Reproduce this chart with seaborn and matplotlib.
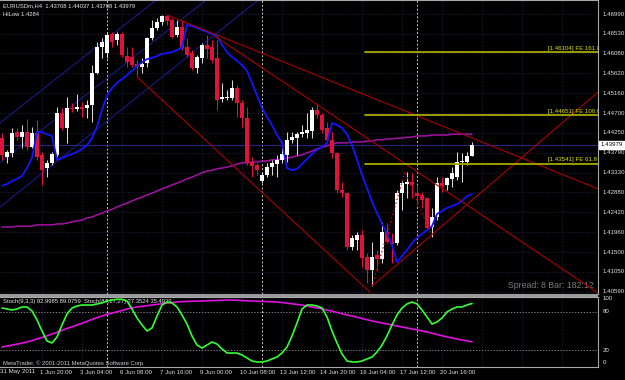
import numpy as np
import pandas as pd
import matplotlib
matplotlib.use("Agg")
import matplotlib.pyplot as plt
import matplotlib.transforms as mtrans
from matplotlib.patches import Rectangle
import seaborn as sns

sns.set_theme(style="dark")
plt.rcParams['font.family'] = ['Liberation Sans', 'DejaVu Sans']

# ---------------- data ----------------
opens = [1.4413,1.4369,1.4379,1.4427,1.4415,1.4427,1.4392,1.4425,1.4374,1.4344,
 1.4356,1.4374,1.4471,1.4436,1.4482,1.4481,1.4485,1.4482,1.4489,1.4563,
 1.4623,1.4609,1.4653,1.4639,1.4653,1.4602,1.4600,1.4584,1.4577,1.4586,
 1.4644,1.4667,1.4681,1.4694,1.4685,1.4651,1.4669,1.4623,1.4609,1.4575,
 1.4598,1.4628,1.4623,1.4598,1.4503,1.4505,1.4505,1.4528,1.4494,1.4459,
 1.4358,1.4351,1.4314,1.4328,1.4346,1.4353,1.4363,1.4374,1.4409,1.4413,
 1.4422,1.4425,1.4429,1.4478,1.4466,1.4436,1.4409,1.4379,1.4293,1.4286,
 1.4162,1.4178,1.4190,1.4139,1.4109,1.4144,1.4134,1.4197,1.4174,1.4171,
 1.4286,1.4307,1.4312,1.4286,1.4282,1.4275,1.4208,1.4231,1.4309,1.4305,
 1.4319,1.4323,1.4358,1.4358,1.43708]
highs = [1.4425,1.4386,1.4436,1.4436,1.4443,1.4457,1.4439,1.4455,1.4381,1.4363,
 1.4381,1.4485,1.4482,1.4508,1.4494,1.4515,1.4496,1.4501,1.4581,1.4634,
 1.4644,1.4655,1.4658,1.4658,1.4658,1.4623,1.4623,1.4593,1.4598,1.4646,
 1.4685,1.4690,1.4697,1.4697,1.4690,1.4685,1.4685,1.4644,1.4616,1.4605,
 1.4632,1.4651,1.4639,1.4639,1.4540,1.4524,1.4547,1.4535,1.4501,1.4485,
 1.4369,1.4356,1.4335,1.4356,1.4363,1.4374,1.4402,1.4427,1.4427,1.4427,
 1.4443,1.4471,1.4485,1.4494,1.4471,1.4450,1.4427,1.4381,1.4312,1.4289,
 1.4190,1.4197,1.4201,1.4148,1.4174,1.4155,1.4220,1.4217,1.4194,1.4293,
 1.4316,1.4335,1.4333,1.4305,1.4289,1.4277,1.4252,1.4323,1.4323,1.4323,
 1.4346,1.4381,1.4379,1.4381,1.44037]
lows = [1.4363,1.4356,1.4369,1.4409,1.4390,1.4386,1.4390,1.4363,1.4305,1.4323,
 1.4351,1.4369,1.4432,1.4402,1.4473,1.4475,1.4462,1.4459,1.4450,1.4561,
 1.4598,1.4598,1.4623,1.4628,1.4600,1.4577,1.4577,1.4554,1.4563,1.4577,
 1.4639,1.4662,1.4674,1.4674,1.4644,1.4646,1.4616,1.4600,1.4570,1.4563,
 1.4586,1.4598,1.4586,1.4478,1.4496,1.4501,1.4501,1.4462,1.4439,1.4351,
 1.4323,1.4328,1.4309,1.4323,1.4328,1.4323,1.4356,1.4358,1.4402,1.4374,
 1.4415,1.4413,1.4413,1.4459,1.4425,1.4404,1.4367,1.4286,1.4277,1.4155,
 1.4155,1.4155,1.4116,1.4079,1.4072,1.4109,1.4125,1.4171,1.4125,1.4167,
 1.4247,1.4275,1.4275,1.4259,1.4252,1.4201,1.4185,1.4224,1.4289,1.4293,
 1.4300,1.4316,1.4312,1.4351,1.43708]
closes = [1.4374,1.4381,1.4425,1.4415,1.4427,1.4392,1.4425,1.4369,1.4339,1.4356,
 1.4376,1.4471,1.4436,1.4482,1.4479,1.4485,1.4481,1.4489,1.4563,1.4623,
 1.4634,1.4651,1.4634,1.4653,1.4605,1.4588,1.4581,1.4577,1.4584,1.4644,
 1.4667,1.4681,1.4694,1.4683,1.4646,1.4669,1.4621,1.4605,1.4575,1.4600,
 1.4628,1.4618,1.4593,1.4501,1.4508,1.4508,1.4528,1.4494,1.4459,1.4356,
 1.4349,1.4339,1.4328,1.4346,1.4356,1.4363,1.4376,1.4409,1.4415,1.4422,
 1.4427,1.4432,1.4478,1.4466,1.4432,1.4409,1.4379,1.4293,1.4286,1.4162,
 1.4183,1.4190,1.4137,1.4109,1.4139,1.4134,1.4197,1.4174,1.4169,1.4286,
 1.4309,1.4312,1.4305,1.4279,1.4270,1.4206,1.4231,1.4309,1.4303,1.4321,
 1.4333,1.4358,1.4360,1.4372,1.43979]
hilow = [1.4303,1.4307,1.4314,1.4319,1.4326,1.4344,1.4367,1.4427,1.4427,1.4422,
 1.4418,1.4363,1.4367,1.4372,1.4376,1.4381,1.4388,1.4397,1.4413,1.4439,
 1.4478,1.4511,1.4528,1.4540,1.4549,1.4558,1.4568,1.4579,1.4588,1.4595,
 1.4598,1.4602,1.4607,1.4609,1.4611,1.4616,1.4621,1.4674,1.4671,1.4667,
 1.4662,1.4658,1.4653,1.4648,1.4628,1.4611,1.4600,1.4591,1.4581,1.4568,
 1.4540,1.4511,1.4482,1.4462,1.4443,1.4420,1.4402,1.4344,1.4339,1.4342,
 1.4353,1.4365,1.4376,1.4386,1.4392,1.4402,1.4448,1.4443,1.4436,1.4422,
 1.4397,1.4363,1.4328,1.4298,1.4266,1.4240,1.4215,1.4194,1.4167,1.4127,
 1.4141,1.4155,1.4171,1.4183,1.4192,1.4201,1.4210,1.4238,1.4245,1.4252,
 1.4256,1.4261,1.4268,1.4279,1.4284]
ma_slow = [1.4208,1.4208,1.4208,1.4210,1.4210,1.4210,1.4210,1.4213,1.4213,1.4213,
 1.4213,1.4215,1.4215,1.4217,1.4220,1.4222,1.4224,1.4229,1.4231,1.4236,
 1.4240,1.4245,1.4249,1.4254,1.4259,1.4263,1.4268,1.4273,1.4277,1.4282,
 1.4286,1.4291,1.4296,1.4300,1.4305,1.4309,1.4314,1.4319,1.4323,1.4328,
 1.4333,1.4337,1.4339,1.4342,1.4344,1.4346,1.4349,1.4353,1.4356,1.4356,
 1.4358,1.4358,1.4360,1.4360,1.4363,1.4363,1.4365,1.4367,1.4369,1.4372,
 1.4374,1.4379,1.4383,1.4388,1.4392,1.4395,1.4399,1.4402,1.4402,1.4402,
 1.4404,1.4404,1.4404,1.4406,1.4406,1.4409,1.4409,1.4411,1.4411,1.4413,
 1.4413,1.4415,1.4415,1.4418,1.4418,1.4418,1.4420,1.4420,1.4420,1.4420,
 1.4422,1.4422,1.4422,1.4422,1.4422]
stoch_fast = [85.9,84.4,82.8,84.4,87.5,87.5,81.3,67.2,50.0,34.4,
 31.3,40.6,59.4,76.6,85.9,89.1,90.6,90.6,90.6,92.2,
 93.8,96.9,98.4,99.5,99.5,96.9,84.4,70.3,59.4,50.0,
 54.7,73.4,90.6,95.3,93.8,87.5,75.0,60.9,42.2,28.1,
 23.4,28.1,32.8,29.7,21.9,15.6,15.6,15.6,12.5,7.8,
 3.1,1.6,1.6,3.1,6.3,9.4,15.6,25.0,42.2,62.5,
 84.4,90.6,90.6,89.1,85.9,71.9,50.0,31.3,14.1,3.1,
 1.6,1.6,3.1,6.3,9.4,17.2,28.1,42.2,59.4,75.0,
 85.9,92.2,95.3,92.2,82.8,71.9,60.9,64.1,70.3,79.7,
 84.4,87.5,87.5,90.6,93.0]
stoch_slow = [25.0,26.5,28.0,29.5,31.0,32.8,35.0,37.5,40.0,42.5,
 45.3,48.0,51.0,54.0,56.5,59.4,62.0,65.0,68.0,71.0,
 73.4,76.0,78.0,80.0,82.0,84.4,86.0,87.5,88.5,89.5,
 90.6,91.6,92.6,93.5,94.4,95.3,95.8,96.2,96.5,96.7,
 96.9,97.2,97.5,97.8,98.1,98.4,98.2,98.0,97.6,97.2,
 96.9,96.6,96.2,95.9,95.6,95.3,94.5,93.5,92.5,91.5,
 90.6,89.0,87.5,86.0,84.5,82.8,81.0,79.0,77.0,75.0,
 73.4,71.5,69.5,67.6,65.8,64.1,62.5,61.0,59.4,57.8,
 56.3,54.7,53.1,51.6,50.0,48.4,46.5,44.5,42.6,40.8,
 39.1,37.5,36.0,34.5,33.0]
time_labels = ["31 May 2011", "1 Jun 20:00", "3 Jun 04:00", "6 Jun 08:00",
               "7 Jun 16:00", "9 Jun 00:00", "10 Jun 08:00", "13 Jun 12:00",
               "14 Jun 20:00", "16 Jun 04:00", "17 Jun 12:00", "20 Jun 16:00"]
time_label_bars = [0, 8, 16, 24, 32, 40, 48, 56, 64, 72, 80, 88]
week_sep_bars = [21, 52, 83]
price_ticks = [1.46990, 1.46530, 1.46080, 1.45620, 1.45160, 1.44700, 1.44250,
               1.43790, 1.43330, 1.42880, 1.42420, 1.41960, 1.41500, 1.41050, 1.40590]
last_price = 1.43979
fib_levels = [1.46104, 1.44651, 1.43541]
fib_names = ["[1.46104] FE 161.8", "[1.44651] FE 100.0", "[1.43541] FE 61.8"]
fib_start_bar = 72.6
# channel lines: (bar0, price0, bar1, price1)
channel_lines = [(-0.4, 1.4448, 30.8, 1.4731),
                 (-0.4, 1.4356, 40.8, 1.4731),
                 (-0.4, 1.4254, 51.2, 1.4731)]
trend_lines = [(27, 1.4554, 73.6, 1.4058),
               (33, 1.4697, 119.2, 1.4296),
               (42.6, 1.4648, 119.2, 1.4056),
               (74, 1.4072, 119.2, 1.4519)]
zigzag_bars = [74, 80.6, 86]
zigzag_prices = [1.4072, 1.4335, 1.4185]

n = len(opens)
bars = np.arange(n)
df = pd.DataFrame({"bar": bars, "open": opens, "high": highs, "low": lows,
                   "close": closes, "hilow": hilow, "ma": ma_slow,
                   "stoch_fast": stoch_fast, "stoch_slow": stoch_slow})

# ---------------- figure ----------------
W, H = 625, 380
fig = plt.figure(figsize=(W / 100, H / 100), dpi=100, facecolor="black")
ax = fig.add_axes([0, 1 - 294 / H, 598 / W, 294 / H])
ax2 = fig.add_axes([0, 1 - 367 / H, 598 / W, 70 / H])
for a in (ax, ax2):
    a.set_facecolor("black")
    a.set_xticks([]); a.set_yticks([])
    a.set_xlim(-0.4, 119.2)
    for s in a.spines.values():
        s.set_color("#a8a8a8"); s.set_linewidth(0.8)
    a.spines["left"].set_visible(False)
ax.set_ylim(1.40536, 1.47313)
ax2.set_ylim(-6.25, 103.1)

grid_kw = dict(color="#2a2a55", lw=0.6, linestyle=(0, (1, 2)), zorder=0)
for p in price_ticks:
    ax.axhline(p, **grid_kw)
for b in list(time_label_bars[1:]) + [96, 104, 112]:
    ax.axvline(b, **grid_kw)
    ax2.axvline(b, **grid_kw)
for b in week_sep_bars:
    for a in (ax, ax2):
        a.axvline(b, color="#c8c8c8", lw=0.7, linestyle=(0, (2, 2)), zorder=1)

# channel
for b0, p0, b1, p1 in channel_lines:
    ax.plot([b0, b1], [p0, p1], color="#1c1c96", lw=0.7, zorder=1)

# moving average (magenta)
sns.lineplot(data=df, x="bar", y="ma", ax=ax, color="#a412a4", lw=1.1,
             legend=False, zorder=2)

# bid line
ax.axhline(last_price, color="#262680", lw=0.8, zorder=1)

# candles
bull_c, bear_c = "#ffffff", "#dc143c"
for i in range(n):
    up = closes[i] >= opens[i]
    col = bull_c if up else bear_c
    ax.vlines(i, lows[i], highs[i], color="#d8d8d8" if up else bear_c, lw=0.75, zorder=3)
    lo = min(opens[i], closes[i])
    h = max(abs(closes[i] - opens[i]), 0.00023)
    ax.bar(i, h, bottom=lo, width=0.62, color=col, edgecolor=col, lw=0, zorder=3.5)

# HiLow blue line
sns.lineplot(data=df, x="bar", y="hilow", ax=ax, color="#1414ff", lw=1.3,
             legend=False, zorder=4)

# trend lines
for b0, p0, b1, p1 in trend_lines:
    ax.plot([b0, b1], [p0, p1], color="#a80000", lw=0.8, zorder=4)
ax.plot(zigzag_bars, zigzag_prices, color="#c00000", lw=0.8,
        linestyle=(0, (1.5, 2)), zorder=4)

# fibonacci expansion
for lvl, name in zip(fib_levels, fib_names):
    ax.plot([fib_start_bar, 119.2], [lvl, lvl], color="#a8a800", lw=1.3, zorder=4)
    ax.text(109.2, lvl + 0.00035, name, color="#e0e000", fontsize=4.4,
            va="bottom", ha="left", clip_on=True, zorder=5)

# texts in main panel
ax.text(3 / 598, 1 - 6 / 294, "EURUSDm,H4  1.43708 1.44037 1.43708 1.43979",
        transform=ax.transAxes, color="#e8e8e8", fontsize=4.2, va="center")
ax.text(3 / 598, 1 - 14 / 294, "HiLow 1.4284", transform=ax.transAxes,
        color="#e8e8e8", fontsize=4.2, va="center")
ax.text(594 / 598, 1 - 286 / 294, "Spread: 8 Bar: 182:12", transform=ax.transAxes,
        color="#7a7a7a", fontsize=6.3, va="center", ha="right")

# right price scale
tr = mtrans.blended_transform_factory(ax.transAxes, ax.transData)
for p in price_ticks:
    ax.text(603 / 598, p, f"{p:.5f}", transform=tr, color="#e0e0e0",
            fontsize=4.4, va="center", ha="left", clip_on=False)
ax.text(601 / 598, last_price, f"{last_price:.5f}", transform=tr, color="black",
        fontsize=4.4, va="center", ha="left", clip_on=False, zorder=6,
        bbox=dict(boxstyle="square,pad=0.25", facecolor="white", edgecolor="white"))

# panel separator
fig.patches.append(Rectangle((0, 1 - 297 / H), 598 / W, 3 / H, transform=fig.transFigure,
                             facecolor="#9a9a9a", edgecolor="none", zorder=10))

# ---------------- stochastic panel ----------------
for lv in (80, 20):
    ax2.axhline(lv, color="#9a9a9a", lw=0.6, linestyle=(0, (1.5, 2)), zorder=1)
sns.lineplot(data=df, x="bar", y="stoch_slow", ax=ax2, color="#e010e0", lw=1.2,
             legend=False, zorder=3)
sns.lineplot(data=df, x="bar", y="stoch_fast", ax=ax2, color="#33ff33", lw=1.2,
             legend=False, zorder=4)
ax2.set_xlabel(""); ax2.set_ylabel(""); ax.set_xlabel(""); ax.set_ylabel("")
ax2.set_xticks([]); ax2.set_yticks([]); ax.set_xticks([]); ax.set_yticks([])
ax2.text(3 / 598, (367 - 302) / 70,
         "Stoch(9,3,3) 92.9985 89.0759  Stoch(84,27,27) 27.3524 35.4939",
         transform=ax2.transAxes, color="#e8e8e8", fontsize=4.2, va="center")
ax2.text(3 / 598, (367 - 363) / 70, "MetaTrader, © 2001-2011 MetaQuotes Software Corp.",
         transform=ax2.transAxes, color="#d0d0d0", fontsize=4.2, va="center")
tr2 = mtrans.blended_transform_factory(ax2.transAxes, ax2.transData)
for lv in (100, 80, 20, 0):
    ax2.text(603 / 598, lv, str(lv), transform=tr2, color="#e0e0e0", fontsize=4.4,
             va="center", ha="left", clip_on=False)

# time labels
for b, lab in zip(time_label_bars, time_labels):
    ax2.text(b - 0.3, -5 / 70, lab, transform=mtrans.blended_transform_factory(
        ax2.transData, ax2.transAxes), color="#e0e0e0", fontsize=4.4,
        va="center", ha="left", clip_on=False)

fig.savefig("out.png", dpi=100, facecolor="black")
